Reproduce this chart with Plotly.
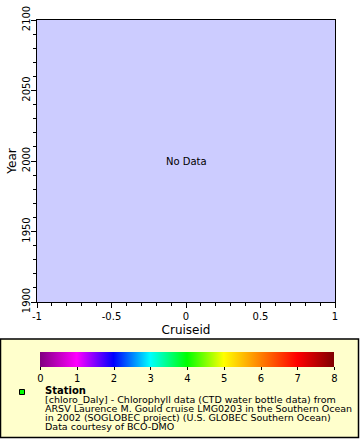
import plotly.graph_objects as go

# ---- data / labels ----
x_range = [-1, 1]
y_range = [1900, 2100]
x_tickvals = [-1, -0.5, 0, 0.5, 1]
x_ticktext = ["-1", "-0.5", "0", "0.5", "1"]
y_tickvals = [1900, 1950, 2000, 2050, 2100]
y_ticktext = ["1900", "1950", "2000", "2050", "2100"]
x_title = "Cruiseid"
y_title = "Year"
no_data_text = "No Data"
cbar_min, cbar_max = 0, 8
cbar_ticks = [0, 1, 2, 3, 4, 5, 6, 7, 8]
cbar_colors = ["#800080", "#ff00ff", "#0000ff", "#00ffff", "#00ff00",
               "#ffff00", "#ff8000", "#ff0000", "#800000"]
legend_name = "Station"
legend_lines = [
    "[chloro_Daly] - Chlorophyll data (CTD water bottle data) from",
    "ARSV Laurence M. Gould cruise LMG0203 in the Southern Ocean",
    "in 2002 (SOGLOBEC project) (U.S. GLOBEC Southern Ocean)",
    "Data courtesy of BCO-DMO",
]

W, H = 360, 440
L, R, T, B = 37, 335, 20, 302  # plot area in pixels
FONT = "DejaVu Sans"


def px(xp):
    return (xp - L) / (R - L)


def py(yp):
    return (B - yp) / (B - T)


colorscale = [[i / (len(cbar_colors) - 1), c] for i, c in enumerate(cbar_colors)]

fig = go.Figure()
fig.add_trace(go.Scatter(
    x=[None], y=[None], mode="markers", showlegend=False, hoverinfo="skip",
    marker=dict(color=[cbar_min], cmin=cbar_min, cmax=cbar_max,
                colorscale=colorscale, showscale=True,
                colorbar=dict(
                    orientation="h", x=px(187.5), xanchor="center",
                    y=py(352), yanchor="top", yref="paper",
                    len=294, lenmode="pixels", thickness=15,
                    thicknessmode="pixels", outlinewidth=0,
                    xpad=0, ypad=0,
                    tickvals=cbar_ticks, ticktext=[str(t) for t in cbar_ticks],
                    ticks="outside", ticklen=3, tickcolor="black",
                    tickfont=dict(family=FONT, size=10, color="black"),
                    bgcolor="rgba(0,0,0,0)",
                ))))

shapes = [
    # legend box
    dict(type="rect", xref="paper", yref="paper",
         x0=px(0.5), x1=px(358.5), y0=py(339), y1=py(437.5),
         fillcolor="#ffffcc", line=dict(color="black", width=1.5),
         layer="below"),
    # legend marker
    dict(type="rect", xref="paper", yref="paper",
         x0=px(19.5), x1=px(24.5), y0=py(389.5), y1=py(394.5),
         fillcolor="#00ff00", line=dict(color="black", width=1)),
]

annotations = [
    dict(text=no_data_text, x=0, y=2000, xref="x", yref="y",
         showarrow=False, font=dict(family=FONT, size=10, color="black")),
    dict(text="<b>" + legend_name + "</b>", x=px(43), y=py(390.5),
         xref="paper", yref="paper", xanchor="left", yanchor="middle",
         showarrow=False, font=dict(family=FONT, size=10, color="black")),
]
for i, line in enumerate(legend_lines):
    annotations.append(dict(
        text=line, x=px(43), y=py(399.5 + 9 * i), xref="paper", yref="paper",
        xanchor="left", yanchor="middle", showarrow=False,
        font=dict(family=FONT, size=9.5, color="black")))

fig.update_layout(
    width=W, height=H,
    margin=dict(l=L, r=W - R, t=T, b=H - B, pad=0, autoexpand=False),
    paper_bgcolor="white", plot_bgcolor="#ccccff",
    font=dict(family=FONT, size=10, color="black"),
    showlegend=False,
    shapes=shapes, annotations=annotations,
    xaxis=dict(range=x_range, tickvals=x_tickvals, ticktext=x_ticktext,
               automargin=False,
               showgrid=False, zeroline=False, showline=True, mirror=True,
               linecolor="black", linewidth=1, ticks="outside", ticklen=5,
               tickcolor="black",
               minor=dict(dtick=0.1, ticks="outside", ticklen=3,
                          tickcolor="black", showgrid=False),
               tickfont=dict(family=FONT, size=10),
               title=dict(text=x_title, font=dict(family=FONT, size=12),
                          standoff=4)),
    yaxis=dict(range=y_range, tickvals=y_tickvals, ticktext=y_ticktext,
               automargin=False, ticklabelstandoff=-3,
               showgrid=False, zeroline=False, showline=True, mirror=True,
               linecolor="black", linewidth=1, ticks="outside", ticklen=5,
               tickcolor="black", tickangle=-90,
               minor=dict(dtick=10, ticks="outside", ticklen=3,
                          tickcolor="black", showgrid=False),
               tickfont=dict(family=FONT, size=10),
               title=dict(text=y_title, font=dict(family=FONT, size=12),
                          standoff=1)),
)

fig.write_html("out.html", config={"displayModeBar": False},
               post_script="document.body.style.margin='0px';"
                           "document.body.style.padding='0px';")
